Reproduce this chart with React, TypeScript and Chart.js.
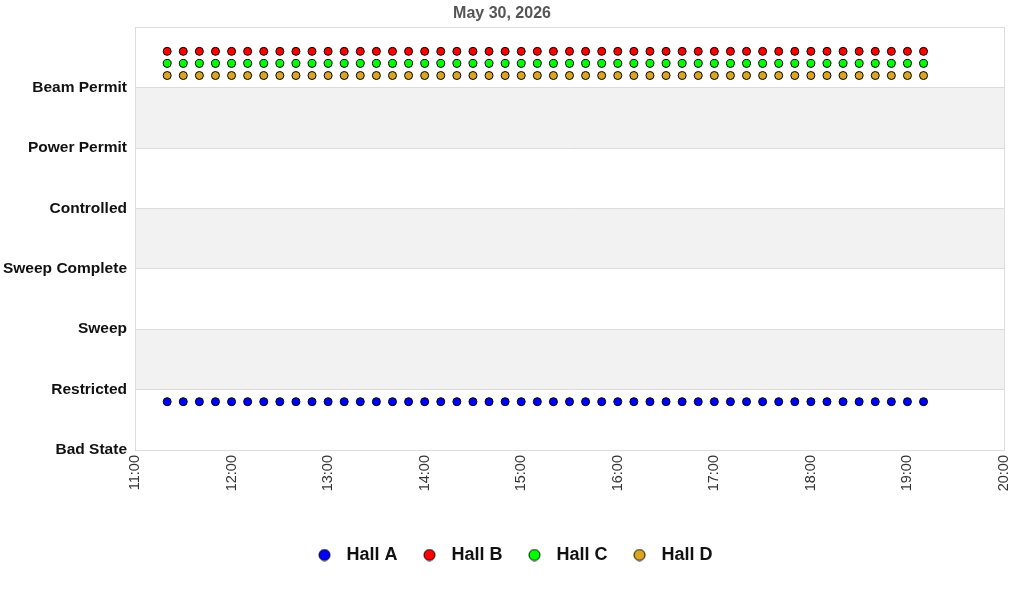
import React, { useEffect, useRef } from "react";
import { Chart, registerables } from "chart.js";

Chart.register(...registerables);

const TITLE = "May 30, 2026";
const STATE_LABELS = ["Bad State", "Restricted", "Sweep", "Sweep Complete", "Controlled", "Power Permit", "Beam Permit"];
const X_TICK_LABELS = ["11:00", "12:00", "13:00", "14:00", "15:00", "16:00", "17:00", "18:00", "19:00", "20:00"];
const TIMES = [
  "11:20", "11:30", "11:40", "11:50",
  "12:00", "12:10", "12:20", "12:30", "12:40", "12:50",
  "13:00", "13:10", "13:20", "13:30", "13:40", "13:50",
  "14:00", "14:10", "14:20", "14:30", "14:40", "14:50",
  "15:00", "15:10", "15:20", "15:30", "15:40", "15:50",
  "16:00", "16:10", "16:20", "16:30", "16:40", "16:50",
  "17:00", "17:10", "17:20", "17:30", "17:40", "17:50",
  "18:00", "18:10", "18:20", "18:30", "18:40", "18:50",
  "19:00", "19:10",
];
const HALL_A = [
  0.8, 0.8, 0.8, 0.8, 0.8, 0.8, 0.8, 0.8, 0.8, 0.8, 0.8, 0.8,
  0.8, 0.8, 0.8, 0.8, 0.8, 0.8, 0.8, 0.8, 0.8, 0.8, 0.8, 0.8,
  0.8, 0.8, 0.8, 0.8, 0.8, 0.8, 0.8, 0.8, 0.8, 0.8, 0.8, 0.8,
  0.8, 0.8, 0.8, 0.8, 0.8, 0.8, 0.8, 0.8, 0.8, 0.8, 0.8, 0.8,
];
const HALL_B = [
  6.6, 6.6, 6.6, 6.6, 6.6, 6.6, 6.6, 6.6, 6.6, 6.6, 6.6, 6.6,
  6.6, 6.6, 6.6, 6.6, 6.6, 6.6, 6.6, 6.6, 6.6, 6.6, 6.6, 6.6,
  6.6, 6.6, 6.6, 6.6, 6.6, 6.6, 6.6, 6.6, 6.6, 6.6, 6.6, 6.6,
  6.6, 6.6, 6.6, 6.6, 6.6, 6.6, 6.6, 6.6, 6.6, 6.6, 6.6, 6.6,
];
const HALL_C = [
  6.4, 6.4, 6.4, 6.4, 6.4, 6.4, 6.4, 6.4, 6.4, 6.4, 6.4, 6.4,
  6.4, 6.4, 6.4, 6.4, 6.4, 6.4, 6.4, 6.4, 6.4, 6.4, 6.4, 6.4,
  6.4, 6.4, 6.4, 6.4, 6.4, 6.4, 6.4, 6.4, 6.4, 6.4, 6.4, 6.4,
  6.4, 6.4, 6.4, 6.4, 6.4, 6.4, 6.4, 6.4, 6.4, 6.4, 6.4, 6.4,
];
const HALL_D = [
  6.2, 6.2, 6.2, 6.2, 6.2, 6.2, 6.2, 6.2, 6.2, 6.2, 6.2, 6.2,
  6.2, 6.2, 6.2, 6.2, 6.2, 6.2, 6.2, 6.2, 6.2, 6.2, 6.2, 6.2,
  6.2, 6.2, 6.2, 6.2, 6.2, 6.2, 6.2, 6.2, 6.2, 6.2, 6.2, 6.2,
  6.2, 6.2, 6.2, 6.2, 6.2, 6.2, 6.2, 6.2, 6.2, 6.2, 6.2, 6.2,
];
const SERIES_NAMES = ["Hall A", "Hall B", "Hall C", "Hall D"];
const SERIES_VALUES = [HALL_A, HALL_B, HALL_C, HALL_D];
const SERIES_COLORS = ["#0000ff", "#ff0000", "#00ff00", "#daa520"];
const SHADED_BANDS = [[5, 6], [3, 4], [1, 2]];

const toMinutes = (t: string) => {
  const [h, m] = t.split(":").map(Number);
  return h * 60 + m;
};

const FONT = "'Liberation Sans', Arial, sans-serif";
const GRID_COLOR = "#dcdcdc";

const makeLegendDot = (color: string) => {
  const c = document.createElement("canvas");
  c.width = 13;
  c.height = 13;
  const g = c.getContext("2d")!;
  g.beginPath();
  g.arc(6.5, 6.5, 5.5, 0, Math.PI * 2);
  g.fillStyle = color;
  g.fill();
  g.lineWidth = 1;
  g.strokeStyle = "#000000";
  g.stroke();
  return c;
};

const bandsPlugin = {
  id: "bands",
  afterLayout(chart: any) {
    if (chart.legend) {
      chart.legend.left += 10;
      chart.legend.right += 10;
    }
  },
  beforeDraw(chart: any) {
    const { ctx, chartArea, scales } = chart;
    const y = scales.y;
    ctx.save();
    ctx.fillStyle = "#f2f2f2";
    for (const [lo, hi] of SHADED_BANDS) {
      const top = y.getPixelForValue(hi);
      const bot = y.getPixelForValue(lo);
      ctx.fillRect(chartArea.left, top, chartArea.right - chartArea.left, bot - top);
    }
    ctx.restore();
  },
  beforeDatasetsDraw(chart: any) {
    const { ctx, chartArea } = chart;
    ctx.save();
    ctx.strokeStyle = GRID_COLOR;
    ctx.lineWidth = 1;
    ctx.strokeRect(
      Math.round(chartArea.left) + 0.5,
      Math.round(chartArea.top) + 0.5,
      Math.round(chartArea.right - chartArea.left),
      Math.round(chartArea.bottom - chartArea.top)
    );
    ctx.restore();
  },
};

export default function App() {
  const ref = useRef<HTMLCanvasElement>(null);

  useEffect(() => {
    if (!ref.current) return;
    const xs = TIMES.map(toMinutes);
    const legendDots = SERIES_COLORS.map(makeLegendDot);
    const chart = new Chart(ref.current, {
      type: "scatter",
      data: {
        datasets: SERIES_NAMES.map((name, i) => ({
          label: name,
          data: SERIES_VALUES[i].map((v, j) => ({ x: xs[j], y: v })),
          backgroundColor: SERIES_COLORS[i],
          borderColor: "#000000",
          borderWidth: 1,
          pointRadius: 4,
          pointHoverRadius: 4,
          pointStyle: "circle",
          showLine: false,
        })),
      },
      options: {
        responsive: false,
        animation: false,
        layout: { padding: { left: 0, right: 20, top: 0, bottom: 26 } },
        plugins: {
          title: {
            display: true,
            text: TITLE,
            color: "#555555",
            font: { family: FONT, size: 16, weight: "bold" },
            padding: { top: 4, bottom: 4 },
          },
          legend: {
            position: "bottom",
            labels: {
              usePointStyle: true,
              pointStyleWidth: 26,
              boxHeight: 13,
              padding: 19,
              color: "#111111",
              font: { family: FONT, size: 18, weight: "bold" },
              generateLabels: (chart: any) => {
                const items = Chart.defaults.plugins.legend.labels.generateLabels(chart);
                return items.map((it: any, i: number) => ({ ...it, pointStyle: legendDots[i] }));
              },
            },
          },
          tooltip: { enabled: false },
        },
        scales: {
          x: {
            type: "linear",
            min: toMinutes(X_TICK_LABELS[0]),
            max: toMinutes(X_TICK_LABELS[X_TICK_LABELS.length - 1]),
            grid: { display: false, drawTicks: false },
            border: { display: false },
            ticks: {
              stepSize: 60,
              autoSkip: false,
              maxRotation: 90,
              minRotation: 90,
              padding: 5,
              color: "#333333",
              font: { family: FONT, size: 14.5 },
              callback: (v: any) => {
                const idx = (Number(v) - toMinutes(X_TICK_LABELS[0])) / 60;
                return X_TICK_LABELS[idx] ?? "";
              },
            },
            afterFit: (scale: any) => {
              scale.height = 77;
              scale.paddingLeft = 0;
              scale.paddingRight = 0;
            },
          },
          y: {
            type: "linear",
            min: 0,
            max: 7,
            grid: { color: GRID_COLOR, drawTicks: false, lineWidth: 1 },
            border: { display: false },
            ticks: {
              stepSize: 1,
              padding: 8,
              color: "#111111",
              font: { family: FONT, size: 15.5, weight: "bold" },
              callback: (v: any) => STATE_LABELS[Number(v)] ?? "",
            },
            afterFit: (scale: any) => {
              scale.width = 135;
            },
          },
        },
      },
      plugins: [bandsPlugin],
    });
    return () => chart.destroy();
  }, []);

  return (
    <div style={{ position: "absolute", left: 0, top: 0, width: 1024, height: 600, background: "#ffffff" }}>
      <canvas ref={ref} width={1024} height={600} style={{ width: 1024, height: 600 }} />
    </div>
  );
}
